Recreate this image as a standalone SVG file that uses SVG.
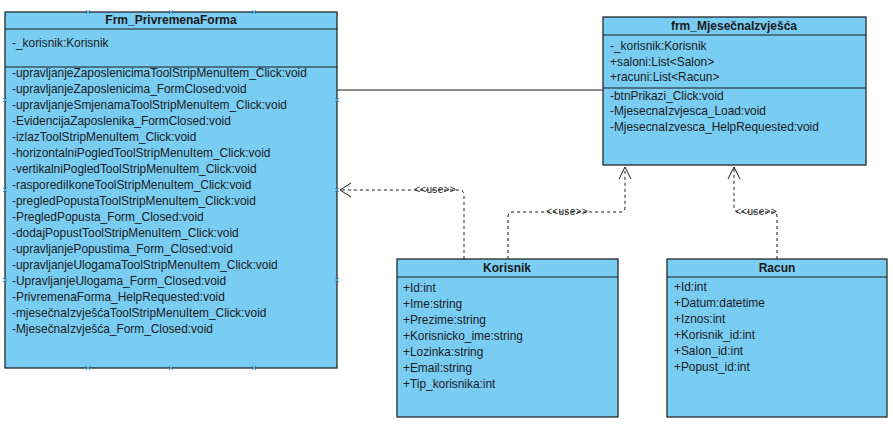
<svg xmlns="http://www.w3.org/2000/svg" width="893" height="433" viewBox="0 0 893 433">
<style>
.box{fill:#79CDF3;stroke:#1a1a1a;stroke-width:1.2}
.sep{stroke:#1a1a1a;stroke-width:1.2}
.t{font-family:"Liberation Sans",Arial,sans-serif;font-size:11.9px;fill:#1a1a1a}
.h{font-family:"Liberation Sans",Arial,sans-serif;font-size:12px;font-weight:bold;fill:#1a1a1a;text-anchor:middle}
.lbl{font-family:"Liberation Sans",Arial,sans-serif;font-size:10px;fill:#1a1a1a;text-anchor:middle;letter-spacing:0.3px}
.dash{fill:none;stroke:#1a1a1a;stroke-width:1;stroke-dasharray:3,3}
.arr{fill:none;stroke:#1a1a1a;stroke-width:1}
.mk{stroke:#3aa0d8;stroke-width:1}
</style>
<rect width="893" height="433" fill="#ffffff"/>
<g id="connectors">
  <line x1="337" y1="90" x2="603" y2="90" stroke="#1a1a1a" stroke-width="1"/>
  <path class="dash" d="M464,259 V195 Q464,190 459,190 H340"/>
  <path class="arr" d="M351,183 L340,190 L351,197"/>
  <text class="lbl" x="435" y="193">&lt;&lt;use&gt;&gt;</text>
  <path class="dash" d="M508,259 V217 Q508,212 513,212 H620 Q625,212 625,207 V168"/>
  <path class="arr" d="M619,179 L625,167 L631,179"/>
  <text class="lbl" x="567" y="215">&lt;&lt;use&gt;&gt;</text>
  <path class="dash" d="M777,259 V217 Q777,212 772,212 H739 Q734,212 734,207 V168"/>
  <path class="arr" d="M728,179 L734,167 L740,179"/>
  <text class="lbl" x="756" y="215">&lt;&lt;use&gt;&gt;</text>
</g>
<g id="Frm_PrivremenaForma">
  <rect class="box" x="5" y="12" width="332" height="356"/>
  <line class="sep" x1="5" y1="29" x2="337" y2="29"/>
  <line class="sep" x1="5" y1="67" x2="337" y2="67"/>
  <text class="h" x="171" y="24">Frm_PrivremenaForma</text>
  <text class="t" x="12" y="47">-_korisnik:Korisnik</text>
  <text class="t" x="12" y="77">-upravljanjeZaposlenicimaToolStripMenuItem_Click:void</text>
  <text class="t" x="12" y="93">-upravljanjeZaposlenicima_FormClosed:void</text>
  <text class="t" x="12" y="109">-upravljanjeSmjenamaToolStripMenuItem_Click:void</text>
  <text class="t" x="12" y="125">-EvidencijaZaposlenika_FormClosed:void</text>
  <text class="t" x="12" y="141">-izlazToolStripMenuItem_Click:void</text>
  <text class="t" x="12" y="157">-horizontalniPogledToolStripMenuItem_Click:void</text>
  <text class="t" x="12" y="173">-vertikalniPogledToolStripMenuItem_Click:void</text>
  <text class="t" x="12" y="189">-rasporediIkoneToolStripMenuItem_Click:void</text>
  <text class="t" x="12" y="205">-pregledPopustaToolStripMenuItem_Click:void</text>
  <text class="t" x="12" y="221">-PregledPopusta_Form_Closed:void</text>
  <text class="t" x="12" y="237">-dodajPopustToolStripMenuItem_Click:void</text>
  <text class="t" x="12" y="253">-upravljanjePopustima_Form_Closed:void</text>
  <text class="t" x="12" y="269">-upravljanjeUlogamaToolStripMenuItem_Click:void</text>
  <text class="t" x="12" y="285">-UpravljanjeUlogama_Form_Closed:void</text>
  <text class="t" x="12" y="301">-PrivremenaForma_HelpRequested:void</text>
  <text class="t" x="12" y="317">-mjesečnaIzvješćaToolStripMenuItem_Click:void</text>
  <text class="t" x="12" y="333">-MjesečnaIzvješća_Form_Closed:void</text>
  <g class="mk">
    <path d="M86,10 l4,4 M90,10 l-4,4 M169,10 l4,4 M173,10 l-4,4 M252,10 l4,4 M256,10 l-4,4"/>
    <path d="M86,366 l4,4 M90,366 l-4,4 M169,366 l4,4 M173,366 l-4,4 M252,366 l4,4 M256,366 l-4,4"/>
    <path d="M3,98 l4,4 M7,98 l-4,4 M3,188 l4,4 M7,188 l-4,4 M3,278 l4,4 M7,278 l-4,4"/>
    <path d="M335,98 l4,4 M339,98 l-4,4 M335,188 l4,4 M339,188 l-4,4 M335,278 l4,4 M339,278 l-4,4"/>
  </g>
</g>
<g id="frm_MjesecnaIzvjesca">
  <rect class="box" x="603" y="17" width="263" height="148"/>
  <line class="sep" x1="603" y1="35" x2="866" y2="35"/>
  <line class="sep" x1="603" y1="88" x2="866" y2="88"/>
  <text class="h" x="734" y="30">frm_MjesečnaIzvješća</text>
  <text class="t" x="610" y="50">-_korisnik:Korisnik</text>
  <text class="t" x="610" y="66">+saloni:List&lt;Salon&gt;</text>
  <text class="t" x="610" y="81">+racuni:List&lt;Racun&gt;</text>
  <text class="t" x="610" y="100">-btnPrikazi_Click:void</text>
  <text class="t" x="610" y="115">-MjesecnaIzvjesca_Load:void</text>
  <text class="t" x="610" y="131">-MjesecnaIzvesca_HelpRequested:void</text>
</g>
<g id="Korisnik">
  <rect class="box" x="397" y="259" width="221" height="158"/>
  <line class="sep" x1="397" y1="277" x2="618" y2="277"/>
  <text class="h" x="507" y="272">Korisnik</text>
  <text class="t" x="403" y="292">+Id:int</text>
  <text class="t" x="403" y="308">+Ime:string</text>
  <text class="t" x="403" y="324">+Prezime:string</text>
  <text class="t" x="403" y="340">+Korisnicko_ime:string</text>
  <text class="t" x="403" y="356">+Lozinka:string</text>
  <text class="t" x="403" y="372">+Email:string</text>
  <text class="t" x="403" y="388">+Tip_korisnika:int</text>
</g>
<g id="Racun">
  <rect class="box" x="667" y="259" width="220" height="158"/>
  <line class="sep" x1="667" y1="277" x2="887" y2="277"/>
  <text class="h" x="777" y="272">Racun</text>
  <text class="t" x="674" y="291">+Id:int</text>
  <text class="t" x="674" y="307">+Datum:datetime</text>
  <text class="t" x="674" y="323">+Iznos:int</text>
  <text class="t" x="674" y="339">+Korisnik_id:int</text>
  <text class="t" x="674" y="355">+Salon_id:int</text>
  <text class="t" x="674" y="371">+Popust_id:int</text>
</g>
</svg>
